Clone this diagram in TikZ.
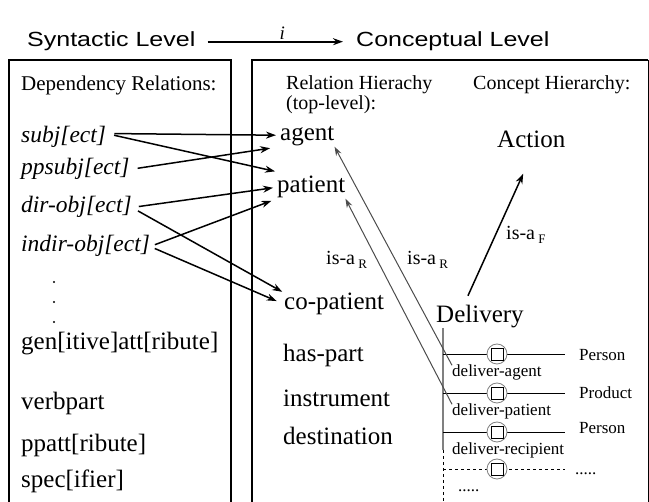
\documentclass[tikz,border=0pt]{standalone}
\usepackage{fontspec}
\setmainfont{Liberation Serif}
\setsansfont{Liberation Sans}[FakeStretch=1.22]
\usetikzlibrary{arrows.meta}

\tikzset{
    lbl/.style={anchor=base west, inner sep=0pt},
    rel/.style={lbl, text height=16pt, text depth=5pt, font=\fontsize{23.5}{24}\selectfont\itshape},
    big/.style={lbl, text height=17pt, text depth=5.5pt, font=\fontsize{25}{25}\selectfont},
    head/.style={lbl, font=\fontsize{20}{21}\selectfont},
    small/.style={lbl, text height=11.5pt, text depth=4pt, font=\fontsize{17}{17}\selectfont},
    isa/.style={lbl, font=\fontsize{20}{20}\selectfont},
    title/.style={lbl, font=\fontsize{20.5}{21}\selectfont\sffamily},
    frame/.style={black, line width=1.8pt},
    link/.style={black, line width=1.5pt, -{Stealth[length=10pt,width=7pt]}},
    islink/.style={gray!60!black, line width=1pt, -{Stealth[length=9pt,width=6pt]}},
    slot/.style={black, line width=0.8pt},
}
\newcommand{\isasub}[1]{\,\raisebox{-4pt}{\fontsize{13}{13}\selectfont #1}}

\begin{document}
\begin{tikzpicture}[x=1pt, y=-1pt]
    \useasboundingbox (0,0) rectangle (649,502);

    \node [title] (syn) at (27,47) {Syntactic Level};
    \node [title] (con) at (356,47) {Conceptual Level};
    \draw [link, line width=1.8pt, shorten <=12pt, shorten >=13pt] (syn.east) -- (con.west)
        node [pos=0.54, above, inner sep=1.5pt, font=\fontsize{19}{19}\selectfont\itshape] (imap) {i};

    \draw [frame] (9,510) -- (9,60) -- (231,60) -- (231,510);
    \draw [frame] (252,510) -- (252,60) -- (648,60);
    \draw [black, line width=0.8pt] (648,60) -- (648,510);

    % syntactic level
    \node [head, font=\fontsize{21}{21}\selectfont] (deps) at (21,91) {Dependency Relations:};
    \node [rel] (subj) at (21,143) {subj[ect]};
    \node [rel] (ppsubj) at (21,175) {ppsubj[ect]};
    \node [rel] (dirobj) at (21,213) {dir-obj[ect]};
    \node [rel] (indirobj) at (21,252) {indir-obj[ect]};
    \foreach \y in {282,302,322} \fill (54,\y) circle (1.2pt);
    \node [big] (genatt) at (21,350) {gen[itive]att[ribute]};
    \node [big] (verbpart) at (21,410) {verbpart};
    \node [big] (ppatt) at (21,452) {ppatt[ribute]};
    \node [big] (spec) at (21,488) {spec[ifier]};

    % conceptual level
    \node [head] (relh) at (286,90) {Relation Hierachy};
    \node [head] (toplev) at (286,110) {(top-level):};
    \node [head] (conh) at (473,90) {Concept Hierarchy:};
    \node [big] (agent) at (280,141) {agent};
    \node [big] (patient) at (277,193) {patient};
    \node [big] (copatient) at (284,310) {co-patient};
    \node [big] (haspart) at (283,362) {has-part};
    \node [big] (instrument) at (283,407) {instrument};
    \node [big] (destination) at (283,445) {destination};
    \node [big] (action) at (497,148) {Action};
    \node [big] (delivery) at (436,323) {Delivery};
    \node [isa] (isaf) at (506,240) {is-a\isasub{F}};
    \node [isa] (isar1) at (326,265) {is-a\isasub{R}};
    \node [isa] (isar2) at (407,265) {is-a\isasub{R}};

    \draw [gray, line width=1.2pt] (443,328) -- (443,450);
    \draw [black, dashed, line width=1pt] (443,450) -- (443,502);
    \foreach \y/\role/\txt/\filler/\dy in {354/dagent/deliver-agent/Person/7,
            393/dpatient/deliver-patient/Product/6, 432/drecip/deliver-recipient/Person/2} {
        \draw [slot] (443,\y) -- (565,\y);
        \filldraw [fill=white, draw=gray, line width=0.8pt] (497,\y) circle (10pt);
        \draw [slot] (491,\y-6) rectangle (503,\y+6);
        \node [small] (\role) at (452,\y+23) {\txt};
        \node [small] (\role-f) at (579,\y+\dy) {\filler};
    }
    \draw [slot, dashed] (443,469) -- (565,469);
    \filldraw [fill=white, draw=gray, line width=0.8pt] (497,469) circle (10pt);
    \draw [slot] (491,463) rectangle (503,475);
    \node [small] (more-f) at (575,475) {.....};
    \node [small] (more) at (458,492) {.....};

    % mapping i
    \draw [link, shorten <=8pt, shorten >=4pt] ([yshift=4pt]subj.east) -- (agent.west);
    \draw [link, shorten <=8pt, shorten >=2pt] ([yshift=4pt]subj.east) -- ([yshift=4pt]patient.north west);
    \draw [link, shorten <=8pt, shorten >=10pt] (ppsubj.east) -- (agent.south west);
    \draw [link, shorten <=7pt, shorten >=4pt] (dirobj.east) -- (patient.west);
    \draw [link, shorten <=7pt, shorten >=2pt] (dirobj.east) -- (copatient.north west);
    \draw [link, shorten <=5pt, shorten >=6pt] (indirobj.east) -- (patient.south west);
    \draw [link, shorten <=5pt, shorten >=8pt] (indirobj.east) -- (copatient.west);

    % is-a links
    \draw [islink] (dagent.north west) -- (agent.south east);
    \draw [islink] (dpatient.north west) -- (patient.south east);
    \draw [link] ([xshift=-12pt, yshift=10pt]delivery.north) -- ([xshift=-8pt, yshift=-20pt]action.south);
\end{tikzpicture}
\end{document}
